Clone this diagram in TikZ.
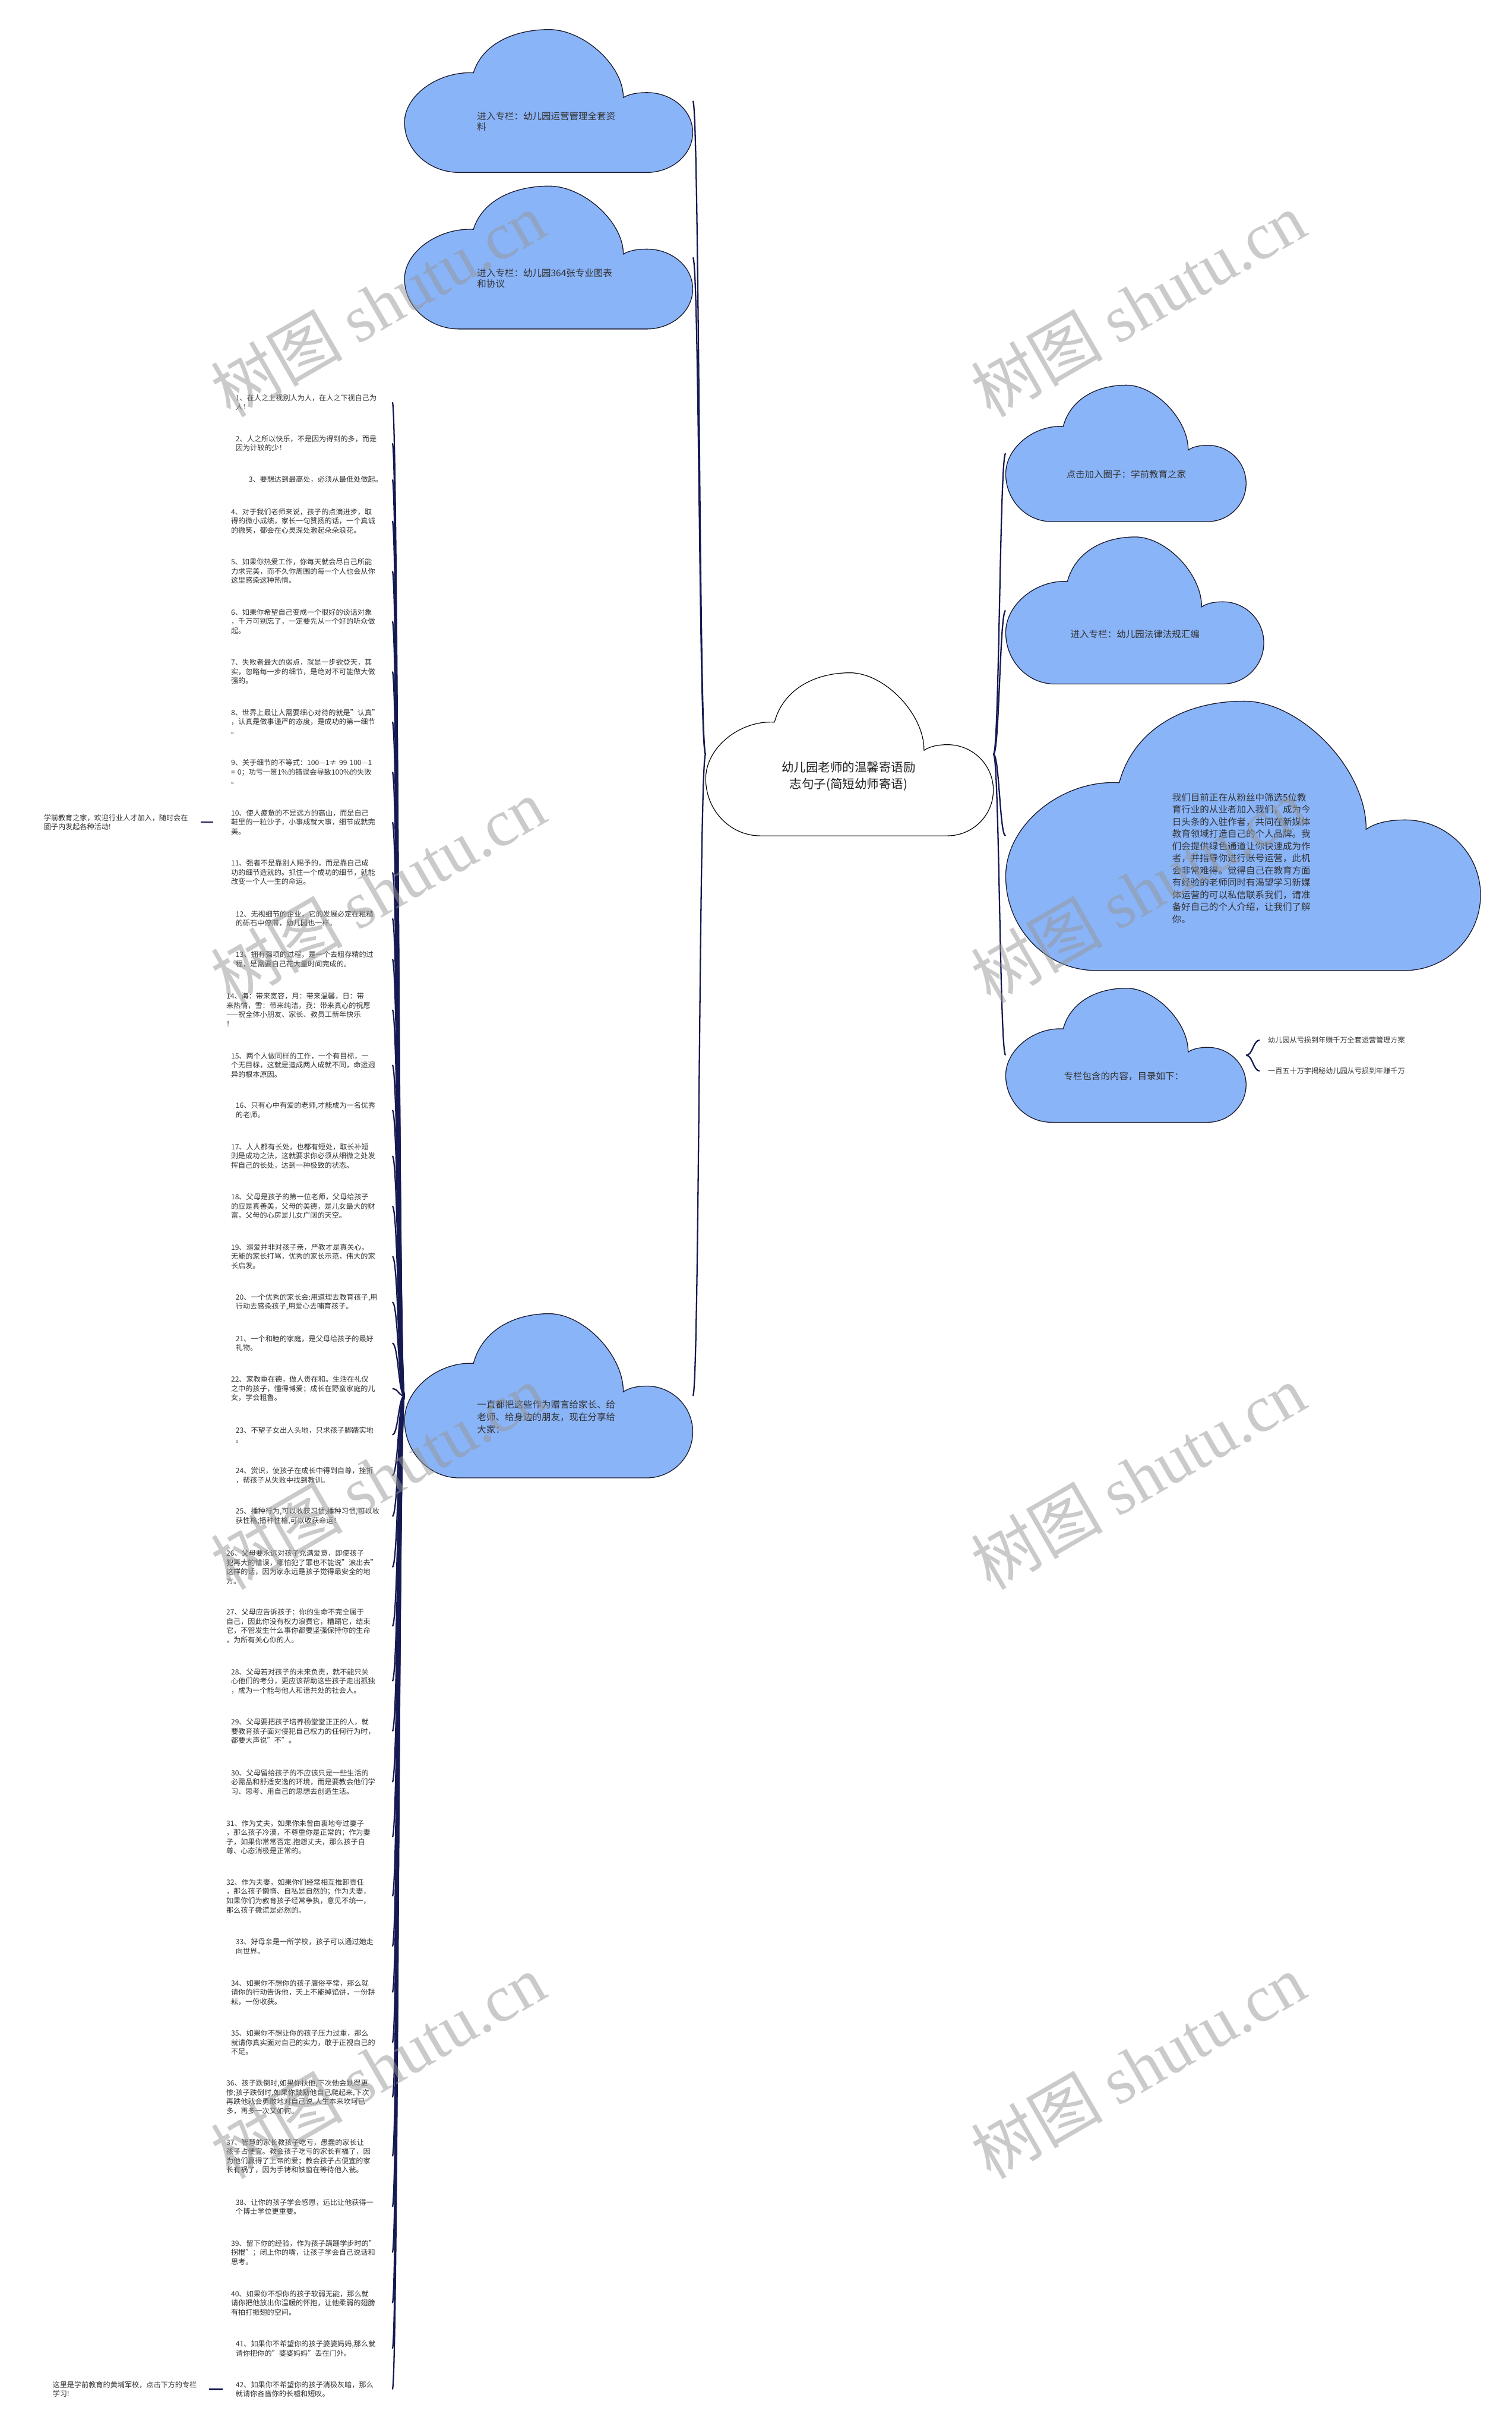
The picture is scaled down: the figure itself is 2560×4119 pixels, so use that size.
\documentclass[tikz,border=0pt]{standalone}
\usepackage{fontspec}
\setmainfont{Noto Sans CJK SC}
\newfontfamily\wmlat{Liberation Serif}
\setlength\parindent{0pt}
\definecolor{cloudblue}{RGB}{138,180,248}
\definecolor{cloudline}{RGB}{25,25,45}
\definecolor{connc}{RGB}{22,26,82}
\definecolor{txt}{RGB}{51,51,51}
\definecolor{wmc}{RGB}{150,150,150}
\pgfdeclarelayer{back}
\pgfdeclarelayer{bg}
\pgfsetlayers{back,bg,main}
\tikzset{
  cloudst/.style={fill=cloudblue, draw=cloudline, line width=1.3pt},
  rootst/.style={fill=white, draw=black, line width=1.2pt},
  anchorbox/.style={rectangle, inner sep=0pt, draw=none},
  conn/.style={draw=connc, line width=2.3pt},
  ctext/.style={align=left, inner sep=0pt, text=txt, text width=236pt, font=\fontsize{15.6}{18.3}\selectfont},
  ctextone/.style={inner sep=0pt, text=txt, font=\fontsize{15.6}{18.3}\selectfont},
  itemtext/.style={anchor=west, inner sep=0pt, align=left, text=txt, font=\fontsize{12.2}{15.6}\selectfont},
  rleaf/.style={anchor=west, inner xsep=14pt, inner ysep=0pt, text=txt, font=\fontsize{12.2}{15.6}\selectfont},
  wm/.style={text=wmc, opacity=0.5, rotate=30, inner sep=0pt, font=\fontsize{112}{112}\selectfont}
}
\newcommand\cloudpath[6]{%
  \begin{scope}[shift={(#1,#2)},xscale=#3,yscale=#4]
  \path[#5] (0.19,1) .. controls (0.085,1) and (0,0.843) .. (0,0.65)
   .. controls (0,0.457) and (0.12,0.29) .. (0.239,0.303)
   .. controls (0.27,0.10) and (0.38,0) .. (0.502,0)
   .. controls (0.62,0) and (0.76,0.25) .. (0.759,0.476)
   .. controls (0.78,0.45) and (0.81,0.441) .. (0.841,0.441)
   .. controls (0.928,0.441) and (1,0.565) .. (1,0.72)
   .. controls (1,0.875) and (0.928,1) .. (0.84,1) -- cycle;
  \node[anchorbox, minimum width=#3pt, minimum height=#4pt] (#6) at (0.5,0.5) {};
  \end{scope}}
\newcommand\li[4]{\pgfmathsetmacro\tw{664-#2}\node[itemtext, text width=\tw pt] (#1) at (#2,#3) {#4};}
\begin{document}
\begin{tikzpicture}[x=1pt,y=-1pt]
\begin{pgfonlayer}{back}
\fill[white] (0,0) rectangle (2560,4119);
\end{pgfonlayer}
\useasboundingbox (0,0) rectangle (2560,4119);

% clouds
\cloudpath{1195}{1139}{487}{276}{rootst}{root}
\cloudpath{685}{50}{488}{242}{cloudst}{t1}
\cloudpath{685}{315}{488}{242}{cloudst}{t2}
\cloudpath{685}{2224}{488}{278}{cloudst}{bc}
\cloudpath{1703}{652}{407}{231}{cloudst}{r1}
\cloudpath{1703}{909}{437}{249}{cloudst}{r2}
\cloudpath{1703}{1187}{804}{456}{cloudst}{r3}
\cloudpath{1703}{1673}{407}{227}{cloudst}{r4}

% cloud texts
\node[align=center, inner sep=0pt, text={rgb,255:red,34;green,34;blue,34}, font=\fontsize{20.6}{28.3}\selectfont] (roott) at (1437,1314) {幼儿园老师的温馨寄语励\\志句子(简短幼师寄语)};
\node[ctext] (t1t) at (926,206) {进入专栏：幼儿园运营管理全套资\\料};
\node[ctext] (t2t) at (926,471) {进入专栏：幼儿园364张专业图表\\和协议};
\node[ctext, font=\fontsize{15.6}{21}\selectfont] (bct) at (926,2399) {一直都把这些作为赠言给家长、给\\老师、给身边的朋友，现在分享给\\大家：};
\node[ctextone] (r1t) at (1907,803) {点击加入圈子：学前教育之家};
\node[ctextone] (r2t) at (1922,1074) {进入专栏：幼儿园法律法规汇编};
\node[ctext, font=\fontsize{15.6}{20.6}\selectfont] (r3t) at (2103,1453) {我们目前正在从粉丝中筛选5位教\\育行业的从业者加入我们，成为今\\日头条的入驻作者，共同在新媒体\\教育领域打造自己的个人品牌。我\\们会提供绿色通道让你快速成为作\\者，并指导你进行账号运营，此机\\会非常难得。觉得自己在教育方面\\有经验的老师同时有渴望学习新媒\\体运营的可以私信联系我们，请准\\备好自己的个人介绍，让我们了解\\你。};
\node[ctextone] (r4t) at (1903,1822) {专栏包含的内容，目录如下：};

% right leaves
\node[rleaf] (rl1) at (2133,1761) {幼儿园从亏损到年赚千万全套运营管理方案};
\node[rleaf] (rl2) at (2133,1813) {一百五十万字揭秘幼儿园从亏损到年赚千万};

% list items
\li{i1}{399}{681}{1、在人之上视别人为人，在人之下视自己为\\人！}
\li{i2}{399}{750.5}{2、人之所以快乐，不是因为得到的多，而是\\因为计较的少！}
\li{i3}{421}{812}{3、要想达到最高处，必须从最低处做起。}
\li{i4}{391}{882}{4、对于我们老师来说，孩子的点滴进步，取\\得的微小成绩，家长一句赞扬的话，一个真诚\\的微笑，都会在心灵深处激起朵朵浪花。}
\li{i5}{391}{967}{5、如果你热爱工作，你每天就会尽自己所能\\力求完美，而不久你周围的每一个人也会从你\\这里感染这种热情。}
\li{i6}{391}{1052}{6、如果你希望自己变成一个很好的谈话对象\\，千万可别忘了，一定要先从一个好的听众做\\起。}
\li{i7}{391}{1137}{7、失败者最大的弱点，就是一步欲登天，其\\实，忽略每一步的细节，是绝对不可能做大做\\强的。}
\li{i8}{391}{1222}{8、世界上最让人需要细心对待的就是"认真"\\，认真是做事谨严的态度，是成功的第一细节\\。}
\li{i9}{391}{1307}{9、关于细节的不等式：100—1≠ 99 100—1\\= 0；功亏一篑1\%的错误会导致100\%的失败\\。}
\li{i10}{391}{1392}{10、使人疲惫的不是远方的高山，而是自己\\鞋里的一粒沙子，小事成就大事，细节成就完\\美。}
\li{i11}{391}{1477}{11、强者不是靠别人赐予的，而是靠自己成\\功的细节造就的。抓住一个成功的细节，就能\\改变一个人一生的命运。}
\li{i12}{399}{1555}{12、无视细节的企业，它的发展必定在粗糙\\的砾石中停滞，幼儿园也一样。}
\li{i13}{399}{1624}{13、拥有强项的过程，是一个去粗存精的过\\程，是需要自己花大量时间完成的。}
\li{i14}{383}{1709.5}{14、海：带来宽容，月：带来温馨，日：带\\来热情，雪：带来纯洁，我：带来真心的祝愿\\——祝全体小朋友、家长、教员工新年快乐\\！}
\li{i15}{391}{1803}{15、两个人做同样的工作，一个有目标，一\\个无目标，这就是造成两人成就不同，命运迥\\异的根本原因。}
\li{i16}{399}{1879.5}{16、只有心中有爱的老师,才能成为一名优秀\\的老师。}
\li{i17}{391}{1957}{17、人人都有长处，也都有短处，取长补短\\则是成功之法，这就要求你必须从细微之处发\\挥自己的长处，达到一种极致的状态。}
\li{i18}{391}{2042}{18、父母是孩子的第一位老师，父母给孩子\\的应是真善美，父母的美德，是儿女最大的财\\富，父母的心房是儿女广阔的天空。}
\li{i19}{391}{2127}{19、溺爱并非对孩子亲，严教才是真关心。\\无能的家长打骂，优秀的家长示范，伟大的家\\长启发。}
\li{i20}{399}{2204.5}{20、一个优秀的家长会:用道理去教育孩子,用\\行动去感染孩子,用爱心去哺育孩子。}
\li{i21}{399}{2274}{21、一个和睦的家庭，是父母给孩子的最好\\礼物。}
\li{i22}{391}{2351}{22、家教重在德，做人贵在和。生活在礼仪\\之中的孩子，懂得博爱；成长在野蛮家庭的儿\\女，学会粗鲁。}
\li{i23}{399}{2429}{23、不望子女出人头地，只求孩子脚踏实地\\。}
\li{i24}{399}{2498}{24、赏识，使孩子在成长中得到自尊，挫折\\，帮孩子从失败中找到教训。}
\li{i25}{399}{2567}{25、播种行为,可以收获习惯;播种习惯,可以收\\获性格;播种性格,可以收获命运！}
\li{i26}{383}{2653}{26、父母要永远对孩子充满爱意，即使孩子\\犯再大的错误，哪怕犯了罪也不能说"滚出去"\\这样的话，因为家永远是孩子觉得最安全的地\\方。}
\li{i27}{383}{2753}{27、父母应告诉孩子：你的生命不完全属于\\自己，因此你没有权力浪费它，糟蹋它，结束\\它，不管发生什么事你都要坚强保持你的生命\\，为所有关心你的人。}
\li{i28}{391}{2846}{28、父母若对孩子的未来负责，就不能只关\\心他们的考分，更应该帮助这些孩子走出孤独\\，成为一个能与他人和谐共处的社会人。}
\li{i29}{391}{2931}{29、父母要把孩子培养杨堂堂正正的人，就\\要教育孩子面对侵犯自己权力的任何行为时，\\都要大声说"不"。}
\li{i30}{391}{3017}{30、父母留给孩子的不应该只是一些生活的\\必需品和舒适安逸的环境，而是要教会他们学\\习、思考、用自己的思想去创造生活。}
\li{i31}{383}{3110}{31、作为丈夫，如果你未曾由衷地夸过妻子\\，那么孩子冷漠，不尊重你是正常的；作为妻\\子，如果你常常否定.抱怨丈夫，那么孩子自\\尊、心态消极是正常的。}
\li{i32}{383}{3210}{32、作为夫妻，如果你们经常相互推卸责任\\，那么孩子懒惰、自私是自然的；作为夫妻，\\如果你们为教育孩子经常争执，意见不统一，\\那么孩子撒谎是必然的。}
\li{i33}{399}{3295}{33、好母亲是一所学校，孩子可以通过她走\\向世界。}
\li{i34}{391}{3373}{34、如果你不想你的孩子庸俗平常，那么就\\请你的行动告诉他，天上不能掉馅饼，一份耕\\耘，一份收获。}
\li{i35}{391}{3458}{35、如果你不想让你的孩子压力过重，那么\\就请你真实面对自己的实力，敢于正视自己的\\不足。}
\li{i36}{383}{3550.5}{36、孩子跌倒时,如果你扶他,下次他会跌得更\\惨;孩子跌倒时,如果你鼓励他自己爬起来,下次\\再跌他就会勇敢地对自己说,人生本来坎坷已\\多，再多一次又如何。}
\li{i37}{383}{3650.5}{37、智慧的家长教孩子吃亏，愚蠢的家长让\\孩子占便宜。教会孩子吃亏的家长有福了，因\\为他们赢得了上帝的爱；教会孩子占便宜的家\\长有祸了，因为手铐和铁窗在等待他入瓮。}
\li{i38}{399}{3736}{38、让你的孩子学会感恩，远比让他获得一\\个博士学位更重要。}
\li{i39}{391}{3813.5}{39、留下你的经验，作为孩子蹒跚学步时的"\\拐棍"；闭上你的嘴，让孩子学会自己说话和\\思考。}
\li{i40}{391}{3899}{40、如果你不想你的孩子软弱无能，那么就\\请你把他放出你温暖的怀抱，让他柔弱的翅膀\\有拍打振翅的空间。}
\li{i41}{399}{3976}{41、如果你不希望你的孩子婆婆妈妈,那么就\\请你把你的"婆婆妈妈"丢在门外。}
\li{i42}{399}{4045}{42、如果你不希望你的孩子消极灰暗，那么\\就请你吝啬你的长嘘和短叹。}

% left leaves
\node[itemtext, text width=265pt] (lf1) at (74,1392) {学前教育之家，欢迎行业人才加入，随时会在\\圈子内发起各种活动!};
\node[itemtext, text width=265pt] (lf2) at (89,4045) {这里是学前教育的黄埔军校，点击下方的专栏\\学习!};

% connectors
\begin{pgfonlayer}{bg}
\foreach \n in {r1,r2,r3,r4}
  {\draw[conn] (root.east) .. controls +(10,0) and +(-10,0) .. (\n.west);}
\foreach \n in {t1,t2,bc}
  {\draw[conn] (root.west) .. controls +(-11,0) and +(11,0) .. (\n.east);}
\foreach \k in {1,...,42}
  {\draw[conn] (bc.west) .. controls +(-10,0) and +(10,0) .. (i\k.east);}
\draw[conn] (r4.east) .. controls +(11,0) and +(-11,0) .. (rl1.west);
\draw[conn] (r4.east) .. controls +(11,0) and +(-11,0) .. (rl2.west);
\draw[conn, shorten >=30pt] (lf1.east) -- (i10.west);
\draw[conn, shorten >=22pt] (lf2.east) -- (i42.west);
\end{pgfonlayer}

% watermarks
\node[wm] (w1) at (640,515) {树图 {\wmlat shutu.cn}};
\node[wm] (w2) at (1927,515) {树图 {\wmlat shutu.cn}};
\node[wm] (w3) at (640,1508) {树图 {\wmlat shutu.cn}};
\node[wm] (w4) at (1927,1508) {树图 {\wmlat shutu.cn}};
\node[wm] (w5) at (640,2500) {树图 {\wmlat shutu.cn}};
\node[wm] (w6) at (1927,2500) {树图 {\wmlat shutu.cn}};
\node[wm] (w7) at (640,3498) {树图 {\wmlat shutu.cn}};
\node[wm] (w8) at (1927,3498) {树图 {\wmlat shutu.cn}};
\end{tikzpicture}
\end{document}
